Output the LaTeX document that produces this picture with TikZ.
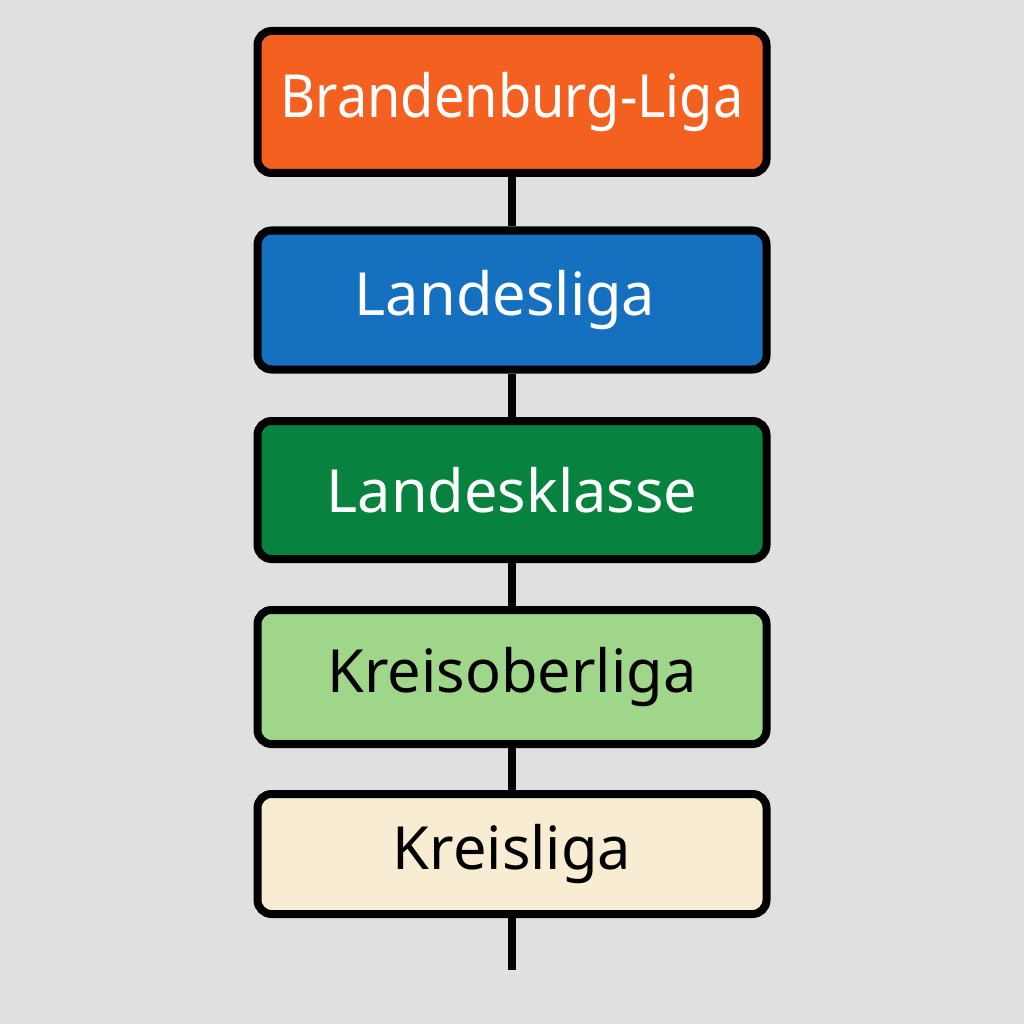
\documentclass[tikz,border=0pt]{standalone}
\usepackage{fontspec}
\setmainfont{Noto Sans}
\definecolor{bgray}{HTML}{E0E0E0}
\definecolor{lorange}{HTML}{F46020}
\definecolor{lblue}{HTML}{1570C0}
\definecolor{lgreen}{HTML}{07833F}
\definecolor{llgreen}{HTML}{A0D68A}
\definecolor{lcream}{HTML}{F8EDD2}
\tikzset{
  lvl/.style={draw=black,line width=8pt,rounded corners=14pt,minimum width=509pt,
    font=\fontsize{59.5}{70}\selectfont,inner sep=0pt},
  link/.style={draw=black,line width=8pt}
}
\begin{document}
\begin{tikzpicture}[x=1pt,y=-1pt]
\fill[bgray] (0,0) rectangle (1024,1024);
\node[lvl,fill=lorange,text=white,minimum height=142pt] (bl) at (512,102)   {\scalebox{0.91}[1]{Brandenburg-Liga}};
\node[lvl,fill=lblue,text=white,minimum height=139pt] (ll) at (512,300) {\hspace*{-14pt}Landesliga};
\node[lvl,fill=lgreen,text=white,minimum height=138pt] (lk) at (512,490)   {Landesklasse};
\node[lvl,fill=llgreen,text=black,minimum height=134pt] (ko) at (512,677)  {Kreisoberliga};
\node[lvl,fill=lcream,text=black,minimum height=120pt] (kl) at (512,854)   {Kreisliga};
\coordinate (end) at (512,970);
\path[link] (bl) -- (ll);
\path[link] (ll) -- (lk);
\path[link] (lk) -- (ko);
\path[link] (ko) -- (kl);
\path[link] (kl) -- (end);
\end{tikzpicture}
\end{document}
